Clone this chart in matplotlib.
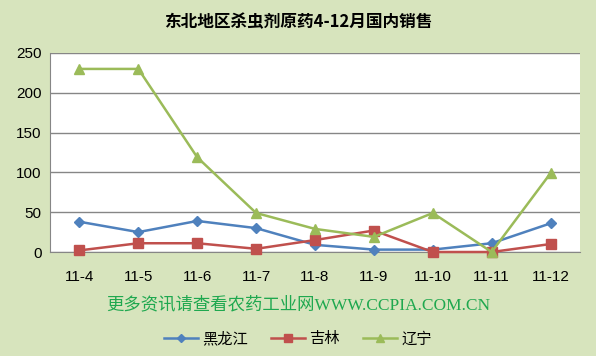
import matplotlib
matplotlib.use("Agg")
import matplotlib.pyplot as plt

plt.rcParams['font.family'] = ['Liberation Sans', 'Noto Sans CJK SC', 'DejaVu Sans']

categories = ["11-4", "11-5", "11-6", "11-7", "11-8", "11-9", "11-10", "11-11", "11-12"]
heilongjiang = [38, 25, 39, 30, 9, 3, 3, 11, 36]
jilin = [2, 11, 11, 4, 15, 27, 0, 0, 10]
liaoning = [230, 230, 119, 49, 29, 19, 49, 0, 99]
series_names = ["黑龙江", "吉林", "辽宁"]
yticks = [0, 50, 100, 150, 200, 250]

bg = "#D7E4BD"
fig = plt.figure(figsize=(5.96, 3.56), dpi=100, facecolor=bg)
ax = fig.add_axes([50/596, 104/356, 530/596, 199/356])
ax.set_facecolor("white")

x = list(range(len(categories)))
ax.plot(x, heilongjiang, color="#4F81BD", marker="D", markersize=5, lw=1.8, label=series_names[0], zorder=3, clip_on=False)
ax.plot(x, jilin, color="#C0504D", marker="s", markersize=7, lw=1.8, label=series_names[1], zorder=3, clip_on=False)
ax.plot(x, liaoning, color="#9BBB59", marker="^", markersize=7, lw=1.8, label=series_names[2], zorder=3, clip_on=False)

ax.set_xlim(-0.5, len(categories) - 0.5)
ax.set_ylim(0, 250)
ax.set_yticks(yticks)
ax.set_xticks(x)
ax.set_xticklabels(categories)
ax.yaxis.grid(True, color="#868686", lw=1)
ax.set_axisbelow(True)
for s in ["top", "right"]:
    ax.spines[s].set_visible(False)
ax.spines["left"].set_color("#868686")
ax.spines["bottom"].set_color("#868686")
ax.tick_params(axis="both", length=0, labelsize=11, pad=6)
ax.tick_params(axis="x", pad=13)

fig.text(0.5, 1 - 22/356, "东北地区杀虫剂原药4-12月国内销售", ha="center", va="center",
         fontsize=12, fontweight="bold", family=["Noto Sans CJK SC"])
fig.text(0.5, 1 - 305/356, "更多资讯请查看农药工业网WWW.CCPIA.COM.CN", ha="center", va="center",
         fontsize=12.5, color="#1FA84F", family=["Liberation Serif", "Noto Sans CJK SC"])

leg = fig.legend(loc="center", bbox_to_anchor=(0.5, 1 - 339/356), ncol=3, frameon=False,
                 handlelength=2.2, columnspacing=1.5, handletextpad=0.3, markerscale=0.8,
                 prop={"family": ["Noto Sans CJK SC"], "size": 11})

fig.savefig("out.png", dpi=100, facecolor=bg)
